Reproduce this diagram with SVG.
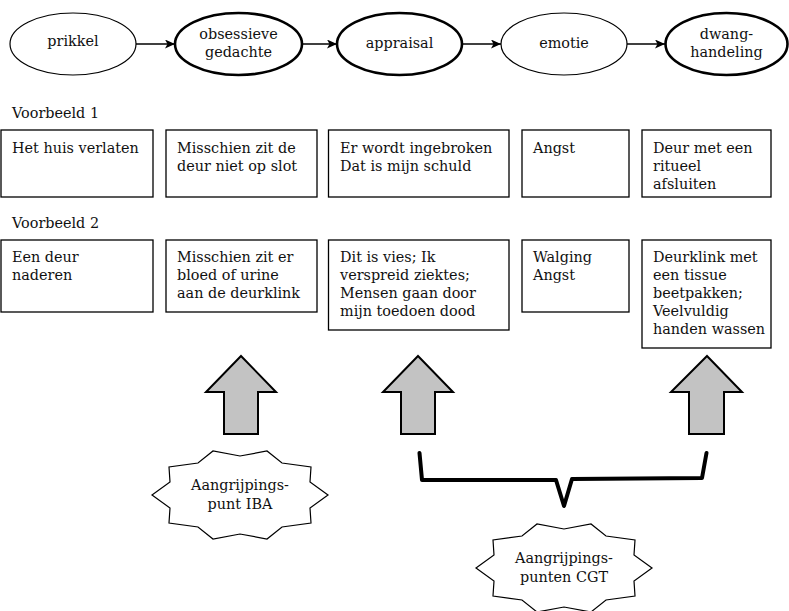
<svg xmlns="http://www.w3.org/2000/svg" width="789" height="611" viewBox="0 0 789 611">
<defs>
<style>
text{font-family:"DejaVu Serif","Liberation Serif",serif;font-size:14.4px;fill:#111}
.c{text-anchor:middle}
.thin{fill:#fff;stroke:#000;stroke-width:1.2}
.thick{fill:#fff;stroke:#000;stroke-width:2.6}
.box{fill:#fff;stroke:#000;stroke-width:1.3}
.link{fill:none;stroke:#000;stroke-width:1.4;marker-end:url(#ah)}
.block{fill:#c3c3c3;stroke:#000;stroke-width:2;stroke-linejoin:miter}
.star{fill:#fff;stroke:#000;stroke-width:1.2}
</style>
<marker id="ah" viewBox="0 0 10 9" refX="10" refY="4.5" markerWidth="10" markerHeight="9" markerUnits="userSpaceOnUse" orient="auto">
<path d="M0,0 L10,4.5 L0,9 L2.5,4.5 z" fill="#000"/>
</marker>
</defs>
<rect width="789" height="611" fill="#fff"/>

<g id="connectors">
<line class="link" x1="136" y1="44" x2="175" y2="44"/>
<line class="link" x1="302" y1="44" x2="337" y2="44"/>
<line class="link" x1="462" y1="44" x2="501" y2="44"/>
<line class="link" x1="627" y1="44" x2="665" y2="44"/>
</g>

<g id="prikkel"><ellipse class="thin" cx="73" cy="44" rx="63" ry="31"/><text class="c" x="73" y="46">prikkel</text></g>
<g id="obsessieve"><ellipse class="thick" cx="238.5" cy="44" rx="63.5" ry="31"/><text class="c" x="238.5" y="39">obsessieve</text><text class="c" x="238.5" y="57">gedachte</text></g>
<g id="appraisal"><ellipse class="thick" cx="399.5" cy="44" rx="62.5" ry="31"/><text class="c" x="399.5" y="48">appraisal</text></g>
<g id="emotie"><ellipse class="thin" cx="564" cy="44" rx="63" ry="31"/><text class="c" x="564" y="48">emotie</text></g>
<g id="dwanghandeling"><ellipse class="thick" cx="726.5" cy="44" rx="61" ry="31"/><text class="c" x="726.5" y="39">dwang-</text><text class="c" x="726.5" y="57">handeling</text></g>

<g id="label1"><text x="12" y="118">Voorbeeld 1</text></g>
<g id="r1b1"><rect class="box" x="1" y="130" width="152" height="67"/><text x="12" y="153">Het huis verlaten</text></g>
<g id="r1b2"><rect class="box" x="166" y="130" width="151" height="67"/><text x="177" y="153">Misschien zit de</text><text x="177" y="171">deur niet op slot</text></g>
<g id="r1b3"><rect class="box" x="328.5" y="130" width="180.5" height="67"/><text x="340" y="153">Er wordt ingebroken</text><text x="340" y="171">Dat is mijn schuld</text></g>
<g id="r1b4"><rect class="box" x="522" y="130" width="107" height="67"/><text x="533" y="153">Angst</text></g>
<g id="r1b5"><rect class="box" x="642" y="130" width="129" height="67"/><text x="653" y="153">Deur met een</text><text x="653" y="171">ritueel</text><text x="653" y="189">afsluiten</text></g>

<g id="label2"><text x="12" y="228">Voorbeeld 2</text></g>
<g id="r2b1"><rect class="box" x="1" y="240" width="152" height="72"/><text x="12" y="262">Een deur</text><text x="12" y="280">naderen</text></g>
<g id="r2b2"><rect class="box" x="166" y="240" width="151" height="72"/><text x="177" y="262">Misschien zit er</text><text x="177" y="280">bloed of urine</text><text x="177" y="298">aan de deurklink</text></g>
<g id="r2b3"><rect class="box" x="328.5" y="240" width="180.5" height="90"/><text x="340" y="262">Dit is vies; Ik</text><text x="340" y="280">verspreid ziektes;</text><text x="340" y="298">Mensen gaan door</text><text x="340" y="316">mijn toedoen dood</text></g>
<g id="r2b4"><rect class="box" x="522" y="240" width="107" height="72"/><text x="533" y="262">Walging</text><text x="533" y="280">Angst</text></g>
<g id="r2b5"><rect class="box" x="642" y="240" width="129" height="108"/><text x="653" y="262">Deurklink met</text><text x="653" y="280">een tissue</text><text x="653" y="298">beetpakken;</text><text x="653" y="316">Veelvuldig</text><text x="653" y="334">handen wassen</text></g>

<g id="arrow1"><path class="block" d="M241,356 L276,392 L258,392 L258,434 L224,434 L224,392 L206,392 Z"/></g>
<g id="arrow2"><path class="block" d="M418,356 L453,392 L435,392 L435,434 L401,434 L401,392 L383,392 Z"/></g>
<g id="arrow3"><path class="block" d="M707,356 L742,392 L724,392 L724,434 L689,434 L689,392 L671,392 Z"/></g>

<g id="bracket"><path d="M419.5,453 L422,480 L556,480 L564,506 L572,479 L702,478 L706.5,453" fill="none" stroke="#000" stroke-width="4" stroke-linejoin="round" stroke-linecap="round"/></g>

<g id="iba">
<path class="star" d="M328,495 L310,482 L311,467 L282,463 L267,451 L240,456 L213,451 L198,463 L169,467 L170,482 L152,495 L170,508 L169,523 L198,527 L213,539 L240,534 L267,539 L282,527 L311,523 L310,508 Z"/>
<text class="c" x="240" y="490">Aangrijpings-</text><text class="c" x="240" y="509">punt IBA</text>
</g>
<g id="cgt">
<path class="star" d="M652,568 L634,555 L635,540 L606,536 L591,524 L564,529 L537,524 L522,536 L493,540 L494,555 L476,568 L494,581 L493,596 L522,600 L537,612 L564,607 L591,612 L606,600 L635,596 L634,581 Z"/>
<text class="c" x="564" y="563">Aangrijpings-</text><text class="c" x="564" y="582">punten CGT</text>
</g>
</svg>
